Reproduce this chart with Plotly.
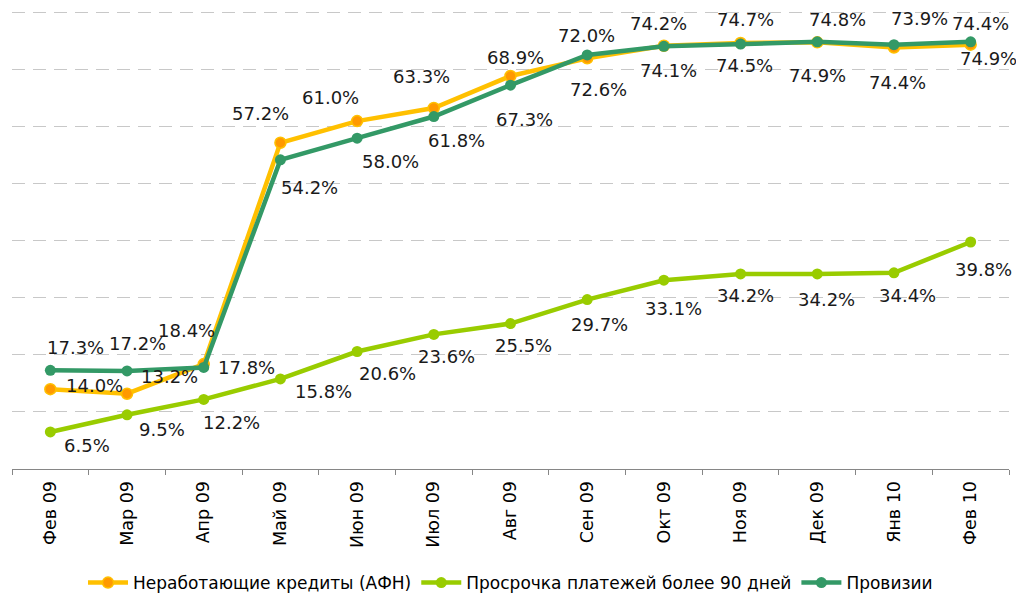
import plotly.graph_objects as go

months = ["Фев 09", "Мар 09", "Апр 09", "Май 09", "Июн 09", "Июл 09", "Авг 09",
          "Сен 09", "Окт 09", "Ноя 09", "Дек 09", "Янв 10", "Фев 10"]

npl_afn = [14.0, 13.2, 18.4, 57.2, 61.0, 63.3, 68.9, 72.0, 74.2, 74.7, 74.8, 73.9, 74.4]
overdue_90 = [6.5, 9.5, 12.2, 15.8, 20.6, 23.6, 25.5, 29.7, 33.1, 34.2, 34.2, 34.4, 39.8]
provisions = [17.3, 17.2, 17.8, 54.2, 58.0, 61.8, 67.3, 72.6, 74.1, 74.5, 74.9, 74.4, 74.9]

names = ["Неработающие кредиты (АФН)", "Просрочка платежей более 90 дней", "Провизии"]

# label offsets in pixels (dx right, dy down) relative to each point
off_afn = [(44, -4), (42, -17), (-17, -34), (-20, -29), (-27, -24), (-12, -31), (5, -19),
           (-1, -23), (-5, -22), (5, -23), (20, -23), (26, -29), (10, -21)]
off_overdue = [(37, 14), (35, 15), (28, 23), (43, 13), (30, 22), (13, 22), (13, 22),
               (12, 25), (10, 28), (5, 22), (9, 26), (14, 23), (13, 27)]
off_prov = [(25, -23), (10, -27), (43, 0), (29, 28), (33, 23), (23, 24), (14, 34),
            (11, 35), (5, 24), (4, 21), (0, 34), (4, 38), (18, 17)]

FONT = "DejaVu Sans"

fig = go.Figure()

fig.add_trace(go.Scatter(
    x=months, y=npl_afn, name=names[0], mode="lines+markers",
    line=dict(color="#FFC000", width=4.5),
    marker=dict(color="#FF9900", size=11, line=dict(color="#FFC000", width=1.5)),
))
fig.add_trace(go.Scatter(
    x=months, y=overdue_90, name=names[1], mode="lines+markers",
    line=dict(color="#99CC00", width=4.5),
    marker=dict(color="#99CC00", size=11),
))
fig.add_trace(go.Scatter(
    x=months, y=provisions, name=names[2], mode="lines+markers",
    line=dict(color="#339966", width=4.5),
    marker=dict(color="#339966", size=11),
))

annotations = []
for vals, offs in ((npl_afn, off_afn), (overdue_90, off_overdue), (provisions, off_prov)):
    for m, v, (dx, dy) in zip(months, vals, offs):
        annotations.append(dict(
            x=m, y=v, xref="x", yref="y", text=f"{v:.1f}%", showarrow=False,
            xshift=dx, yshift=-dy, xanchor="center", yanchor="middle",
            font=dict(family=FONT, size=18, color="#1a1a1a"),
        ))

fig.update_layout(
    width=1016, height=593,
    margin=dict(l=12, r=7, t=11, b=124),
    paper_bgcolor="white", plot_bgcolor="white",
    showlegend=True,
    legend=dict(orientation="h", x=0.5, xanchor="center", y=10 / 593, yanchor="middle",
                yref="container", font=dict(family=FONT, size=17, color="#000"),
                itemwidth=40, tracegroupgap=0),
    annotations=annotations,
    xaxis=dict(
        type="category", range=[-0.5, 12.5], showgrid=False,
        showline=True, linecolor="#868686", linewidth=1,
        ticks="outside", tickson="boundaries", ticklen=5, tickcolor="#868686",
        tickangle=-90, ticklabelstandoff=4,
        tickfont=dict(family=FONT, size=17.5, color="#000"),
    ),
    yaxis=dict(
        range=[0, 80.3], dtick=10, showticklabels=False, zeroline=False,
        showgrid=True, gridcolor="#C8C8C8", gridwidth=1.3, griddash="13px,8px",
        showline=False, ticks="",
    ),
)

fig.write_html("out.html", config={"displayModeBar": False},
               post_script="document.body.style.margin='0';")
